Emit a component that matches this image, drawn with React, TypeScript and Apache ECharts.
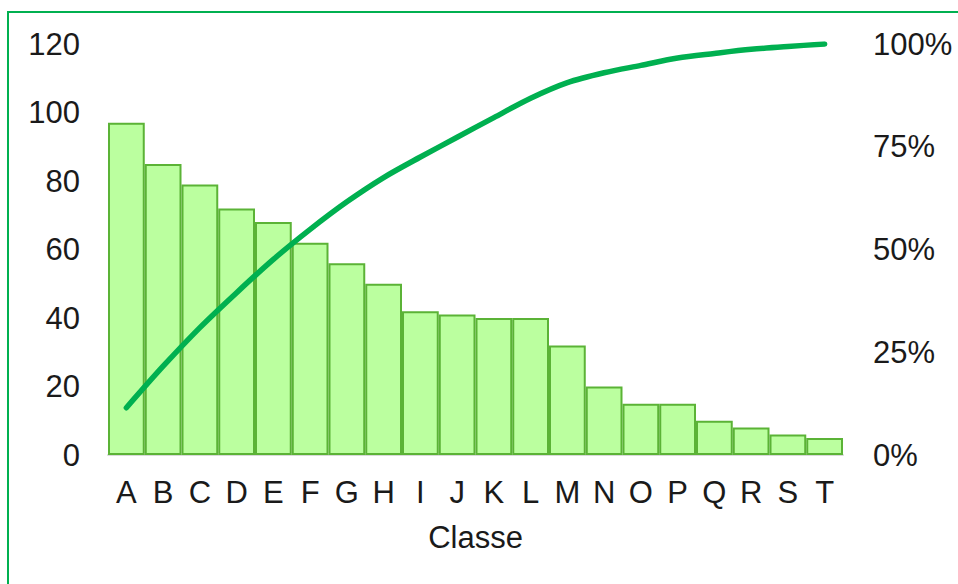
import React, { useEffect, useRef } from "react";
import * as echarts from "echarts";

const categories = ["A","B","C","D","E","F","G","H","I","J","K","L","M","N","O","P","Q","R","S","T"];
const counts = [97, 85, 79, 72, 68, 62, 56, 50, 42, 41, 40, 40, 32, 20, 15, 15, 10, 8, 6, 5];
const cumulativePct = [11.5, 21.6, 31.0, 39.5, 47.6, 54.9, 61.6, 67.5, 72.5, 77.3, 82.1, 86.8, 90.6, 93.0, 94.8, 96.6, 97.7, 98.7, 99.4, 100];
const leftTicks = { min: 0, max: 120, interval: 20 };
const rightTicks = { min: 0, max: 100, interval: 25 };
const xTitle = "Classe";

const FONT = "'Liberation Sans', Arial, sans-serif";
const TXT = "#1a1a1a";
const FS = 31;

export default function App() {
  const ref = useRef<HTMLDivElement>(null);
  useEffect(() => {
    if (!ref.current) return;
    const chart = echarts.init(ref.current, null, { renderer: "svg" });
    chart.setOption({
      animation: false,
      backgroundColor: "#ffffff",
      textStyle: { fontFamily: FONT },
      graphic: [
        {
          type: "rect",
          shape: { x: 8, y: 12, width: 1000, height: 1000 },
          style: { fill: "none", stroke: "#00b050", lineWidth: 2 },
          silent: true,
        },
      ],
      grid: { left: 108, right: 115, top: 44, bottom: 129 },
      xAxis: {
        type: "category",
        data: categories,
        name: xTitle,
        nameLocation: "middle",
        nameGap: 67,
        nameTextStyle: { fontSize: FS, color: TXT, fontFamily: FONT },
        axisTick: { show: false },
        axisLine: { lineStyle: { color: "#d9d9d9", width: 2 } },
        axisLabel: { fontSize: FS, color: TXT, margin: 22, fontFamily: FONT, interval: 0 },
      },
      yAxis: [
        {
          type: "value",
          min: leftTicks.min,
          max: leftTicks.max,
          interval: leftTicks.interval,
          splitLine: { show: false },
          axisLine: { show: false },
          axisTick: { show: false },
          axisLabel: { fontSize: FS, color: TXT, margin: 28, fontFamily: FONT },
        },
        {
          type: "value",
          min: rightTicks.min,
          max: rightTicks.max,
          interval: rightTicks.interval,
          position: "right",
          splitLine: { show: false },
          axisLine: { show: false },
          axisTick: { show: false },
          axisLabel: { fontSize: FS, color: TXT, margin: 30, fontFamily: FONT, formatter: "{value}%" },
        },
      ],
      series: [
        {
          type: "bar",
          data: counts,
          barCategoryGap: "0%",
          itemStyle: { color: "#bbff9f", borderColor: "#5bb336", borderWidth: 2 },
          z: 2,
        },
        {
          type: "line",
          yAxisIndex: 1,
          data: cumulativePct,
          smooth: 0.3,
          symbol: "none",
          lineStyle: { color: "#00b050", width: 5.5, cap: "round", join: "round" },
          z: 3,
        },
      ],
    });
    return () => chart.dispose();
  }, []);
  return <div ref={ref} style={{ position: "fixed", left: 0, top: 0, width: 958, height: 584 }} />;
}
